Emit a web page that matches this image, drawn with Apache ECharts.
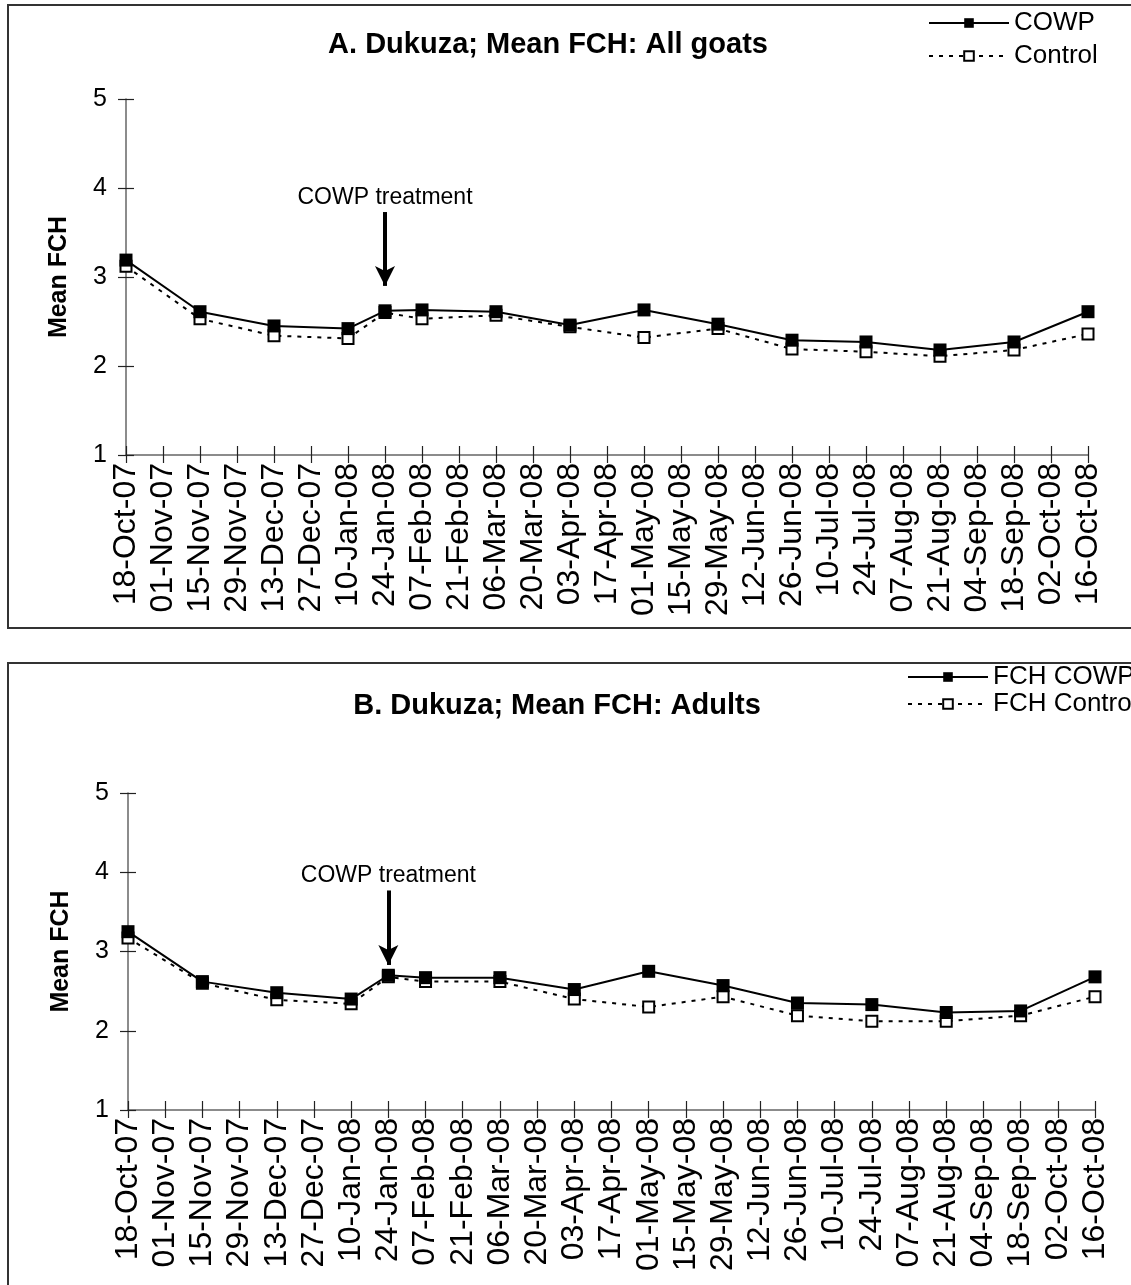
<!DOCTYPE html>
<html>
<head>
<meta charset="utf-8">
<title>Dukuza Mean FCH</title>
<script src="https://cdn.jsdelivr.net/npm/echarts@6/dist/echarts.min.js"></script>
<style>
  html, body { margin: 0; padding: 0; background: #fff; }
  #chart { width: 1131px; height: 1285px; }
</style>
</head>
<body>
<div id="chart"></div>
<script>
// Sampling dates (dd-Mon-yy)
const sampleDates = ['18-Oct-07', '15-Nov-07', '13-Dec-07', '10-Jan-08', '24-Jan-08', '07-Feb-08', '06-Mar-08',
  '03-Apr-08', '01-May-08', '29-May-08', '26-Jun-08', '24-Jul-08', '21-Aug-08', '18-Sep-08', '16-Oct-08'];

// Panel A: all goats
const allCowp    = [3.19, 2.61, 2.45, 2.42, 2.62, 2.63, 2.61, 2.46, 2.63, 2.47, 2.29, 2.27, 2.18, 2.27, 2.61];
const allControl = [3.12, 2.53, 2.34, 2.31, 2.60, 2.53, 2.57, 2.44, 2.32, 2.42, 2.19, 2.16, 2.11, 2.18, 2.36];

// Panel B: adults
const adultCowp    = [3.25, 2.62, 2.48, 2.40, 2.70, 2.67, 2.67, 2.52, 2.75, 2.57, 2.35, 2.33, 2.23, 2.25, 2.68];
const adultControl = [3.17, 2.60, 2.39, 2.34, 2.68, 2.62, 2.62, 2.40, 2.30, 2.43, 2.19, 2.12, 2.12, 2.19, 2.43];

// Panel titles
const panelTitles = ['A. Dukuza; Mean FCH: All goats', 'B. Dukuza; Mean FCH: Adults'];

// Date axis: first and last tick, tick step in days
const axisStart = '18-Oct-07';
const axisEnd = '16-Oct-08';
const tickStepDays = 14;
const treatmentDate = '24-Jan-08';

// Y axis
const yMin = 1, yMax = 5, yStep = 1;

const MONTHS = ['Jan', 'Feb', 'Mar', 'Apr', 'May', 'Jun', 'Jul', 'Aug', 'Sep', 'Oct', 'Nov', 'Dec'];
const DAY = 86400000;

function parseDate(s) {
  const p = s.split('-');
  return Date.UTC(2000 + Number(p[2]), MONTHS.indexOf(p[1]), Number(p[0]));
}
const BASE = parseDate(axisStart);
function dayOffset(s) { return Math.round((parseDate(s) - BASE) / DAY); }
function dayLabel(v) {
  const d = new Date(BASE + v * DAY);
  const dd = String(d.getUTCDate()).padStart(2, '0');
  return dd + '-' + MONTHS[d.getUTCMonth()] + '-' + String(d.getUTCFullYear()).slice(2);
}
function pairs(values) { return sampleDates.map((s, i) => [dayOffset(s), values[i]]); }

const FONT = '"Liberation Sans", Arial, Helvetica, sans-serif';
const xMax = dayOffset(axisEnd);
const tDay = dayOffset(treatmentDate);

// Two stacked grids (panel A, panel B)
const grids = [
  { left: 126, right: 43, top: 99, height: 356 },
  { left: 128, right: 36, top: 793, height: 317 }
];

function xAxes(g) {
  const base = { gridIndex: g, type: 'value', min: 0, max: xMax, interval: tickStepDays, position: 'bottom', splitLine: { show: false } };
  return [
    Object.assign({}, base, {
      axisLine: { show: true, lineStyle: { color: '#666', width: 1.5 } },
      axisTick: { show: true, length: 8, lineStyle: { color: '#222', width: 1.2 } },
      axisLabel: { rotate: 90, fontSize: 32, color: '#000', fontFamily: FONT, margin: 8, formatter: dayLabel, hideOverlap: false }
    }),
    // inward half of the crossing ticks
    Object.assign({}, base, {
      axisLine: { show: false },
      axisTick: { show: true, inside: true, length: 9, lineStyle: { color: '#222', width: 1.2 } },
      axisLabel: { show: false }
    })
  ];
}
function yAxes(g) {
  const base = { gridIndex: g, type: 'value', min: yMin, max: yMax, interval: yStep, position: 'left', splitLine: { show: false } };
  return [
    Object.assign({}, base, {
      name: 'Mean FCH', nameLocation: 'middle', nameGap: 54,
      nameTextStyle: { fontSize: 25, fontWeight: 'bold', color: '#000', fontFamily: FONT },
      axisLine: { show: true, lineStyle: { color: '#666', width: 1.5 } },
      axisTick: { show: true, length: 8, lineStyle: { color: '#222', width: 1.2 } },
      axisLabel: { fontSize: 25, color: '#000', fontFamily: FONT, margin: 19 }
    }),
    Object.assign({}, base, {
      axisLine: { show: false },
      axisTick: { show: true, inside: true, length: 8, lineStyle: { color: '#222', width: 1.2 } },
      axisLabel: { show: false }
    })
  ];
}

function controlSeries(name, values, g) {
  return {
    name: name, type: 'line', xAxisIndex: g * 2, yAxisIndex: g * 2, data: pairs(values),
    symbol: 'rect', symbolSize: 11,
    itemStyle: { color: '#fff', borderColor: '#000', borderWidth: 2 },
    lineStyle: { color: '#000', width: 2, type: [4, 6] },
    z: 2
  };
}
function cowpSeries(name, values, g, arrowTop, arrowTip) {
  return {
    name: name, type: 'line', xAxisIndex: g * 2, yAxisIndex: g * 2, data: pairs(values),
    symbol: 'rect', symbolSize: 13,
    itemStyle: { color: '#000' },
    lineStyle: { color: '#000', width: 2 },
    z: 3,
    markLine: {
      silent: true, animation: false,
      symbol: ['none', 'arrow'], symbolSize: [15, 20],
      lineStyle: { color: '#000', width: 4, type: 'solid' },
      label: { show: true, position: 'start', distance: 3, formatter: 'COWP treatment', fontSize: 23, color: '#000', fontFamily: FONT },
      data: [[{ coord: [tDay, arrowTop] }, { coord: [tDay, arrowTip] }]]
    }
  };
}

function titleText(text, cx, cy) {
  return {
    type: 'text', x: cx, y: cy, silent: true,
    style: { text: text, align: 'center', verticalAlign: 'middle', fill: '#000', font: 'bold 29px ' + FONT }
  };
}

const chart = echarts.init(document.getElementById('chart'), null, { renderer: 'canvas' });
chart.setOption({
  animation: false,
  backgroundColor: '#fff',
  textStyle: { fontFamily: FONT },
  legend: [
    { data: ['COWP', 'Control'], orient: 'vertical', left: 928, top: 10, padding: 0,
      itemWidth: 80, itemHeight: 12, itemGap: 7, selectedMode: false,
      textStyle: { fontSize: 26, color: '#000', fontFamily: FONT } },
    { data: ['FCH COWP', 'FCH Control'], orient: 'vertical', left: 907, top: 664, padding: 0,
      itemWidth: 80, itemHeight: 12, itemGap: 1, selectedMode: false,
      textStyle: { fontSize: 26, color: '#000', fontFamily: FONT } }
  ],
  graphic: [
    { type: 'rect', shape: { x: 8, y: 5, width: 1200, height: 623 }, style: { fill: 'none', stroke: '#333', lineWidth: 2 }, silent: true },
    { type: 'rect', shape: { x: 8, y: 663, width: 1200, height: 700 }, style: { fill: 'none', stroke: '#333', lineWidth: 2 }, silent: true },
    titleText(panelTitles[0], 548, 45),
    titleText(panelTitles[1], 557, 706)
  ],
  grid: grids,
  xAxis: xAxes(0).concat(xAxes(1)),
  yAxis: yAxes(0).concat(yAxes(1)),
  series: [
    controlSeries('Control', allControl, 0),
    cowpSeries('COWP', allCowp, 0, 3.73, 2.9),
    controlSeries('FCH Control', adultControl, 1),
    cowpSeries('FCH COWP', adultCowp, 1, 3.77, 2.83)
  ]
});
</script>
</body>
</html>
